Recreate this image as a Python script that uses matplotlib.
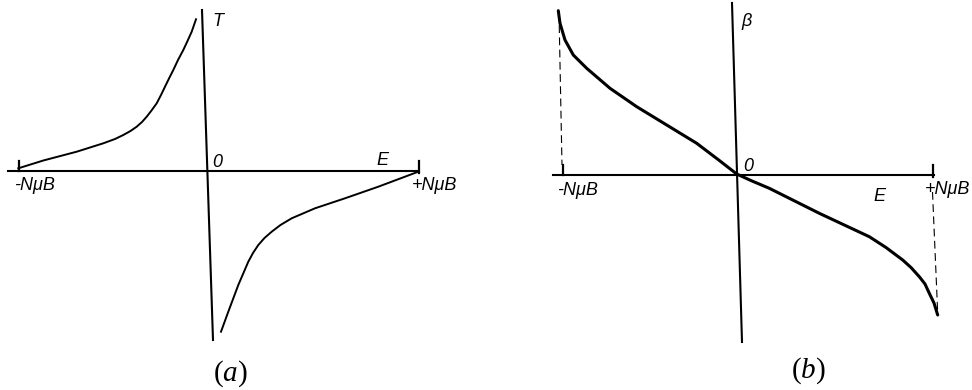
import matplotlib.pyplot as plt

plt.rcParams['mathtext.fontset'] = 'custom'
plt.rcParams['mathtext.rm'] = 'Liberation Serif'
plt.rcParams['mathtext.it'] = 'Liberation Serif:italic'

# Sketch coordinates (pixels, y grows downward)
# (a) temperature against energy, two branches
t_left_x = [18.3, 43.3, 76.7, 103.3, 115.0, 123.3, 130.5, 136.7, 142.0, 146.7, 151.5,
            156.7, 161.0, 165.0, 169.0, 173.3, 178.0, 183.3, 187.5, 191.7, 196.0]
t_left_y = [168.3, 160.5, 151.7, 143.3, 139.0, 135.0, 131.0, 126.7, 122.0, 116.7, 110.5,
            103.3, 95.0, 86.7, 78.5, 70.0, 60.0, 50.0, 41.0, 31.7, 19.3]
t_right_x = [221.0, 228.3, 238.3, 248.3, 253.0, 258.3, 264.5, 271.7, 280.5, 291.7,
             315.0, 345.0, 378.3, 418.3]
t_right_y = [331.7, 311.7, 285.0, 261.7, 253.0, 245.0, 238.0, 231.7, 225.0, 218.3,
             208.3, 198.3, 186.7, 171.7]

# (b) beta against energy
b_x = [558.3, 560.0, 565.0, 573.3, 586.7, 610.0, 636.7, 666.7, 696.7, 720.0, 736.7,
       752.0, 769.3, 819.3, 869.3, 886.0, 902.7, 911.0, 919.3, 925.0, 929.3, 934.0, 937.7]
b_y = [10.7, 23.3, 40.0, 55.0, 68.3, 88.3, 106.7, 125.0, 143.3, 161.0, 174.0,
       181.0, 188.3, 213.3, 236.7, 247.5, 260.0, 267.5, 276.7, 284.0, 293.3, 303.0, 315.0]

fig = plt.figure(figsize=(9.72, 3.9), dpi=100)
ax = fig.add_axes([0, 0, 1, 1])
ax.set_xlim(0, 972)
ax.set_ylim(390, 0)
ax.axis('off')

k = 'black'
lab = dict(family='Liberation Sans', style='italic', fontsize=13, color=k)

# ---- panel (a) ----
ax.plot([8, 419], [171, 171], color=k, lw=1.5)
ax.plot([202, 213], [10, 340], color=k, lw=1.5)
ax.plot([19, 19], [161, 171], color=k, lw=1.6)
ax.plot([418.5, 418.5], [161, 173], color=k, lw=1.6)
ax.plot(t_left_x, t_left_y, color=k, lw=1.4, solid_joinstyle='round')
ax.plot(t_right_x, t_right_y, color=k, lw=1.4, solid_joinstyle='round')

ax.text(212, 26, 'T', ha='left', va='baseline', **lab)
ax.text(212, 167, '0', ha='left', va='baseline', **lab)
ax.text(376, 165, 'E', ha='left', va='baseline', **lab)
ax.text(14, 190, '-N\u03bcB', ha='left', va='baseline', **lab)
ax.text(412, 190, '+N\u03bcB', ha='left', va='baseline', **lab)
ax.text(230, 374, r'$(a)$', ha='center', va='center', fontsize=21)

# ---- panel (b) ----
ax.plot([553, 934], [175, 175], color=k, lw=1.5)
ax.plot([732, 742], [3, 342], color=k, lw=1.5)
ax.plot([562.7, 562.7], [165, 175], color=k, lw=1.6)
ax.plot([932.5, 932.5], [165, 177], color=k, lw=1.6)
ax.plot([559, 562], [13, 165], color=k, lw=0.8, ls=(0, (7, 4)))
ax.plot([932.5, 937.7], [192, 313], color=k, lw=0.8, ls=(0, (7, 4)))
ax.plot(b_x, b_y, color=k, lw=2.2, solid_capstyle='round', solid_joinstyle='round')

ax.text(741, 26, '\u03b2', ha='left', va='baseline', **lab)
ax.text(743, 171, '0', ha='left', va='baseline', **lab)
ax.text(873, 201, 'E', ha='left', va='baseline', **lab)
ax.text(557, 195, '-N\u03bcB', ha='left', va='baseline', **lab)
ax.text(925, 194, '+N\u03bcB', ha='left', va='baseline', **lab)
ax.text(808, 371, r'$(b)$', ha='center', va='center', fontsize=21)

fig.savefig('out.png', dpi=100)
